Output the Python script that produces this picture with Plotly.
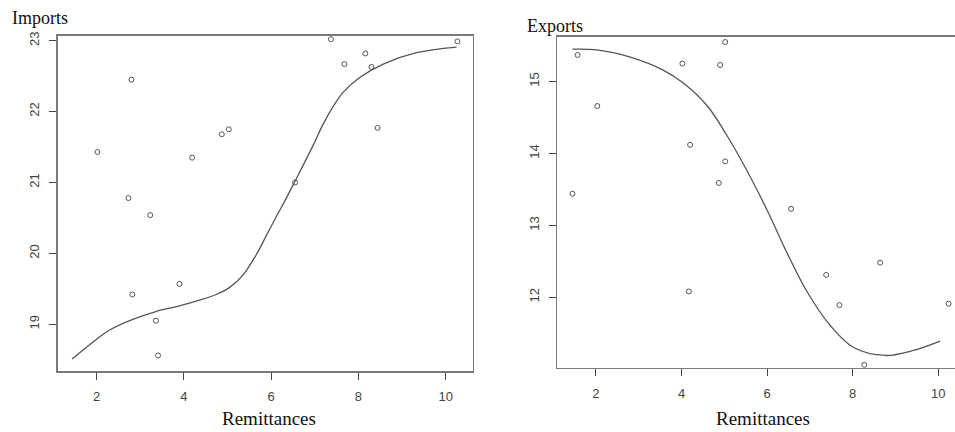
import plotly.graph_objects as go

# ---- Data ----
imp_x = [2.02, 2.80, 2.73, 3.23, 2.82, 3.90, 3.36, 3.41, 4.19, 4.87, 5.03, 6.55,
         7.37, 7.68, 8.16, 8.30, 8.44, 10.27]
imp_y = [21.43, 22.45, 20.78, 20.54, 19.42, 19.57, 19.05, 18.56, 21.35, 21.68, 21.75, 21.00,
         23.02, 22.67, 22.82, 22.63, 21.77, 22.99]

imp_fit_x = [1.44, 2.00, 2.30, 2.83, 3.36, 3.90, 4.36, 4.74, 5.05, 5.35, 5.66, 5.89, 6.12,
             6.35, 6.55, 6.96, 7.19, 7.42, 7.65, 8.03, 8.57, 9.33, 10.25]
imp_fit_y = [18.51, 18.79, 18.92, 19.07, 19.18, 19.26, 19.34, 19.42, 19.52, 19.69, 19.98, 20.25,
             20.52, 20.78, 21.02, 21.52, 21.82, 22.07, 22.27, 22.48, 22.67, 22.83, 22.91]

exp_x = [1.45, 1.57, 2.03, 4.02, 4.20, 4.17, 4.90, 5.02, 5.02, 4.87, 6.56, 7.38, 7.69,
         8.64, 8.27, 10.24]
exp_y = [13.44, 15.37, 14.66, 15.25, 14.12, 12.08, 15.23, 15.55, 13.89, 13.59, 13.23, 12.31,
         11.89, 12.48, 11.06, 11.91]

exp_fit_x = [1.45, 2.02, 2.80, 3.57, 4.04, 4.59, 5.05, 5.51, 6.00, 6.47, 6.93, 7.47, 8.02,
             8.76, 9.42, 10.04]
exp_fit_y = [15.45, 15.44, 15.34, 15.16, 14.98, 14.67, 14.26, 13.78, 13.21, 12.61, 12.08, 11.61,
             11.30, 11.19, 11.26, 11.39]

x_ticks = [2, 4, 6, 8, 10]
imp_y_ticks = [19, 20, 21, 22, 23]
exp_y_ticks = [12, 13, 14, 15]

W, H = 955, 432
BOX = "#7a7a7a"
TICK = "#444444"
PT = "#555555"
SERIF = "Liberation Serif, Times New Roman, serif"
SANS = "Liberation Sans, Arial, sans-serif"

fig = go.Figure()

fig.add_trace(go.Scatter(x=imp_x, y=imp_y, mode="markers", xaxis="x", yaxis="y",
                         marker=dict(symbol="circle-open", size=5, color=PT, line=dict(width=1, color=PT)),
                         showlegend=False))
fig.add_trace(go.Scatter(x=imp_fit_x, y=imp_fit_y, mode="lines", xaxis="x", yaxis="y",
                         line=dict(color="#555555", width=1.3, shape="spline", smoothing=1.0),
                         showlegend=False))
fig.add_trace(go.Scatter(x=exp_x, y=exp_y, mode="markers", xaxis="x2", yaxis="y2",
                         marker=dict(symbol="circle-open", size=5, color=PT, line=dict(width=1, color=PT)),
                         showlegend=False))
fig.add_trace(go.Scatter(x=exp_fit_x, y=exp_fit_y, mode="lines", xaxis="x2", yaxis="y2",
                         line=dict(color="#555555", width=1.3, shape="spline", smoothing=1.0),
                         showlegend=False))

def xax(domain, rng, anchor, mirror):
    return dict(domain=domain, range=rng, anchor=anchor, tickvals=x_ticks,
                showgrid=False, zeroline=False, showline=True, linecolor=BOX, linewidth=1.5,
                mirror=mirror, ticks="outside", ticklen=7, tickcolor=TICK, tickwidth=1,
                tickfont=dict(family=SANS, size=13, color=TICK), ticklabelstandoff=6)

def yax(domain, rng, anchor, ticks, mirror):
    return dict(domain=domain, range=rng, anchor=anchor, tickvals=ticks,
                showgrid=False, zeroline=False, showline=True, linecolor=BOX, linewidth=1.5,
                mirror=mirror, ticks="outside", ticklen=7, tickcolor=TICK, tickwidth=1,
                tickangle=-90, tickfont=dict(family=SANS, size=13, color=TICK),
                ticklabelstandoff=5)

fig.update_layout(
    width=W, height=H,
    margin=dict(l=0, r=0, t=0, b=0),
    paper_bgcolor="white", plot_bgcolor="white",
    hovermode=False,
    xaxis=xax([57.5 / W, 472.7 / W], [1.105, 10.62], "y", True),
    yaxis=yax([1 - 370.5 / H, 1 - 32 / H], [18.34, 23.07], "x", imp_y_ticks, True),
    xaxis2=xax([557.3 / W, 1.0], [1.096, 10.39], "y2", True),
    yaxis2=yax([1 - 367.3 / H, 1 - 33.3 / H], [11.017, 15.62], "x2", exp_y_ticks, False),
    annotations=[
        dict(text="Imports", x=10 / W, y=1 - 14 / H, xref="paper", yref="paper",
             xanchor="left", yanchor="middle", showarrow=False,
             font=dict(family=SERIF, size=18, color="#111111")),
        dict(text="Exports", x=525 / W, y=1 - 22 / H, xref="paper", yref="paper",
             xanchor="left", yanchor="middle", showarrow=False,
             font=dict(family=SERIF, size=18, color="#111111")),
        dict(text="Remittances", x=269 / W, y=1 - 418 / H, xref="paper", yref="paper",
             xanchor="center", yanchor="middle", showarrow=False,
             font=dict(family=SERIF, size=19, color="#111111")),
        dict(text="Remittances", x=763 / W, y=1 - 418 / H, xref="paper", yref="paper",
             xanchor="center", yanchor="middle", showarrow=False,
             font=dict(family=SERIF, size=19, color="#111111")),
    ],
)

fig.write_html("out.html",
               config={"displayModeBar": False, "staticPlot": True},
               post_script="document.body.style.margin='0';document.body.style.overflow='hidden';")
